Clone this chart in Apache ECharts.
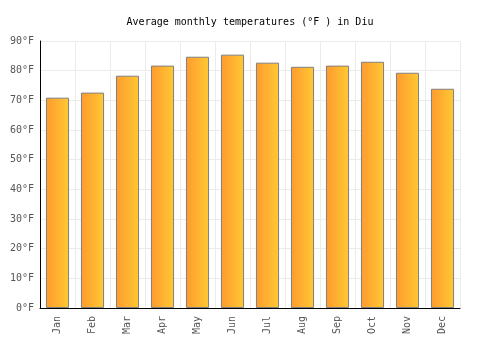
<!DOCTYPE html>
<html><head><meta charset="utf-8">
<script src="https://cdn.jsdelivr.net/npm/echarts@6/dist/echarts.min.js"></script>
<style>html,body{margin:0;padding:0;background:#fff}#c{width:500px;height:350px}</style>
</head><body><div id="c"></div>
<script>
var months = ["Jan","Feb","Mar","Apr","May","Jun","Jul","Aug","Sep","Oct","Nov","Dec"];
var tempsF = [70.9, 72.6, 78.3, 81.7, 84.7, 85.4, 82.7, 81.3, 81.7, 83.0, 79.3, 73.9];
var chartTitle = "Average monthly temperatures (°F ) in Diu";
var font = "DejaVu Sans Mono";
var chart = echarts.init(document.getElementById('c'), null, {renderer:'canvas'});
chart.setOption({
  animation:false,
  title:{text:chartTitle,left:'center',top:12,textStyle:{fontFamily:font,fontSize:10,fontWeight:'normal',color:'#000'}},
  grid:{left:40,right:40,top:41,bottom:42},
  xAxis:{type:'category',data:months,
    axisLine:{show:true,lineStyle:{color:'#000',width:1}},
    axisTick:{show:false},
    splitLine:{show:true,lineStyle:{color:'#ebebeb',width:1}},
    axisLabel:{rotate:90,color:'#555',fontFamily:font,fontSize:10,margin:8}},
  yAxis:{type:'value',min:0,max:90,interval:10,
    axisLine:{show:true,lineStyle:{color:'#000',width:1}},
    axisTick:{show:false},
    splitLine:{show:true,lineStyle:{color:'#ebebeb',width:1}},
    axisLabel:{formatter:'{value}°F',color:'#555',fontFamily:font,fontSize:10,margin:6}},
  series:[{type:'bar',data:tempsF,barWidth:'66%',
    itemStyle:{borderColor:'#808080',borderWidth:1,
      color:new echarts.graphic.LinearGradient(0,0,1,0,[{offset:0,color:'#ff9a2e'},{offset:1,color:'#ffc933'}])}}]
});
</script></body></html>
